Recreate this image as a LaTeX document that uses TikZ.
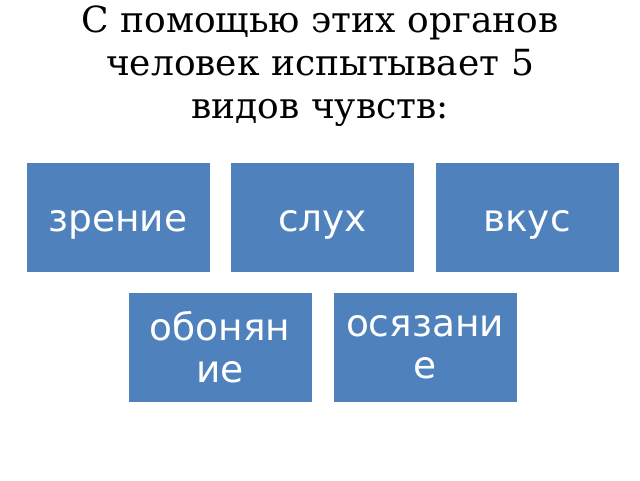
\documentclass[tikz,border=0pt]{standalone}
\usepackage{fontspec}
\setmainfont{DejaVu Serif}
\newfontfamily\boxfont{DejaVu Sans}
\definecolor{boxblue}{HTML}{4F81BD}
\begin{document}
\begin{tikzpicture}[x=1pt,y=1pt,
  sensebox/.style={draw=white,line width=0.8pt,fill=boxblue,minimum width=184pt,minimum height=110pt,inner sep=0pt,
    text=white,font=\boxfont\fontsize{37.5}{42}\selectfont,align=center,text width=182pt},
  onerow/.style={text height=30pt,text depth=0pt}]
\useasboundingbox (0,0) rectangle (640,480);
\fill[white] (0,0) rectangle (640,480);
\node[align=center,font=\fontsize{36}{43}\selectfont,anchor=north,inner sep=0pt] (title) at (320,474.5) {С помощью этих органов\\человек испытывает 5\\видов чувств:};
\node[sensebox,onerow] (z) at (118,263) {зрение};
\node[sensebox,onerow] (s) at (322.5,263) {слух};
\node[sensebox,onerow] (v) at (527,263) {вкус};
\node[sensebox] (o) at (220,133) {обонян\\ие};
\node[sensebox] (os) at (425,133) {осязани\\е};
\end{tikzpicture}
\end{document}
